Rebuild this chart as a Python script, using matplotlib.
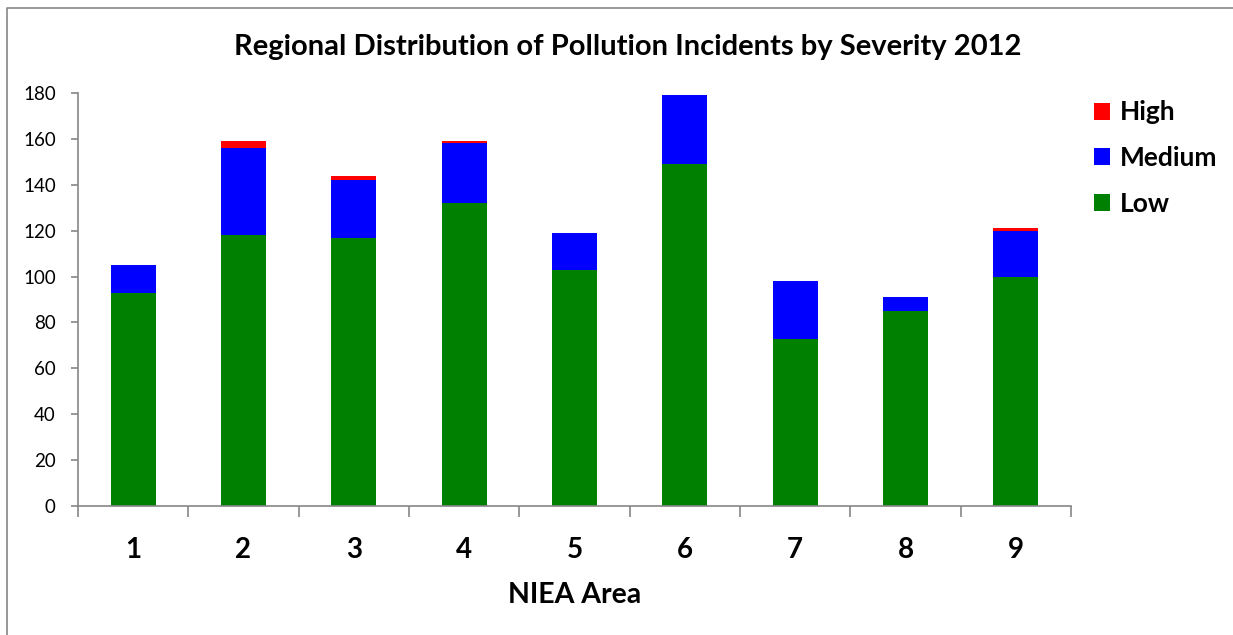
import numpy as np
import matplotlib.pyplot as plt
from matplotlib.lines import Line2D

# Data
areas = ['1', '2', '3', '4', '5', '6', '7', '8', '9']
low = [93, 118, 117, 132, 103, 149, 73, 85, 100]
medium = [12, 38, 25, 26, 16, 30, 25, 6, 20]
high = [0, 3, 2, 1, 0, 0, 0, 0, 1]

plt.rcParams['font.family'] = ['Lato', 'DejaVu Sans']

W, H = 1233, 635
fig = plt.figure(figsize=(W / 100, H / 100), dpi=100)

# outer chart border: only left and top edges are inside the image
fig.lines.append(Line2D([7 / W, 7 / W, 1.0], [0.0, 1 - 7.5 / H, 1 - 7.5 / H],
                        transform=fig.transFigure, color='#868686', linewidth=1.2))

ax = fig.add_axes([78 / W, (H - 506) / H, (1071 - 78) / W, (506 - 93) / H])

x = np.arange(len(areas))
low_a = np.array(low)
med_a = np.array(medium)
high_a = np.array(high)
bw = 0.41
ax.bar(x, low_a, bw, color='#008000', label='Low')
ax.bar(x, med_a, bw, bottom=low_a, color='#0000FF', label='Medium')
ax.bar(x, high_a, bw, bottom=low_a + med_a, color='#FF0000', label='High')

ax.set_xlim(-0.5, len(areas) - 0.5)
ax.set_ylim(0, 180)
ax.set_yticks(np.arange(0, 181, 20))
ax.tick_params(axis='y', labelsize=13.5, length=5, width=1.2, color='#868686', pad=11)

ax.set_xticks(x)
ax.set_xticklabels(areas, fontsize=20, fontweight='bold')
ax.set_xticks(np.arange(-0.5, len(areas), 1), minor=True)
ax.tick_params(axis='x', which='major', length=0, pad=22)
ax.tick_params(axis='x', which='minor', length=8, width=1.2, color='#868686')

for s in ['top', 'right']:
    ax.spines[s].set_visible(False)
for s in ['left', 'bottom']:
    ax.spines[s].set_color('#868686')
    ax.spines[s].set_linewidth(1.2)

ax.set_xlabel('NIEA Area', fontsize=20.5, fontweight='bold', labelpad=14)
fig.text(628 / W, 1 - 47 / H, 'Regional Distribution of Pollution Incidents by Severity 2012',
         ha='center', va='center', fontsize=21, fontweight='bold')

handles, labels = ax.get_legend_handles_labels()
ax.legend(handles[::-1], labels[::-1], loc='upper left', bbox_to_anchor=(1076 / W, 1 - 82 / H),
          bbox_transform=fig.transFigure, frameon=False, prop={'size': 19, 'weight': 'bold'},
          handlelength=0.6, handleheight=0.6, handletextpad=0.35, labelspacing=0.82,
          borderpad=0.2)

fig.savefig('out.png', dpi=100)
